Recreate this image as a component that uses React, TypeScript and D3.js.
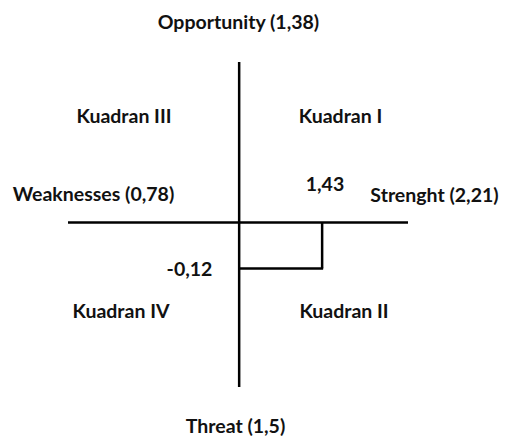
import React from "react";
import * as d3 from "d3";

// SWOT factor scores
const factorNames = ["Strenght", "Weaknesses", "Opportunity", "Threat"];
const factorScores = [2.21, 0.78, 1.38, 1.5];
const quadrantLabels = ["Kuadran I", "Kuadran II", "Kuadran III", "Kuadran IV"];
// resulting point (S - W, O - T)
const pointX = [1.43];
const pointY = [-0.12];
const pointLabels = ["1,43", "-0,12"];

const W = 506;
const H = 439;
const fmt = (v: number) => String(v).replace(".", ",");

export default function App() {
  const x = d3.scaleLinear().domain([-2.95, 2.91]).range([68, 408]);
  const y = d3.scaleLinear().domain([-0.43, 0.42]).range([387, 62]);
  const x0 = x(0);
  const y0 = y(0);
  const px = x(pointX[0]);
  const py = y(pointY[0]);
  const font = "Lato, 'Open Sans', sans-serif";
  const ts = { fontFamily: font, fontWeight: 700, fontSize: 19.5, fill: "#111", textAnchor: "middle" } as const;
  const label = (i: number) => `${factorNames[i]} (${fmt(factorScores[i])})`;
  return (
    <svg width={W} height={H} style={{ position: "absolute", left: 0, top: 0, background: "#fff" }}>
      <rect width={W} height={H} fill="#fff" />
      {/* axes */}
      <line x1={x.range()[0]} x2={x.range()[1]} y1={y0} y2={y0} stroke="#000" strokeWidth={2.5} />
      <line x1={x0} x2={x0} y1={y.range()[1]} y2={y.range()[0]} stroke="#000" strokeWidth={2.5} />
      {/* position lines */}
      <line x1={px} x2={px} y1={y0} y2={py} stroke="#000" strokeWidth={2.5} />
      <line x1={x0} x2={px + 1} y1={py} y2={py} stroke="#000" strokeWidth={2.5} />
      {/* factor labels */}
      <text x={238.5} y={29} {...ts}>{label(2)}</text>
      <text x={235.5} y={433} {...ts}>{label(3)}</text>
      <text x={93.5} y={201} {...ts}>{label(1)}</text>
      <text x={434.5} y={202} {...ts}>{label(0)}</text>
      {/* point labels */}
      <text x={325} y={191} {...ts}>{pointLabels[0]}</text>
      <text x={189.5} y={276} {...ts}>{pointLabels[1]}</text>
      {/* quadrants */}
      <text x={340.5} y={123} {...ts}>{quadrantLabels[0]}</text>
      <text x={344} y={318} {...ts}>{quadrantLabels[1]}</text>
      <text x={124} y={123} {...ts}>{quadrantLabels[2]}</text>
      <text x={121} y={318} {...ts}>{quadrantLabels[3]}</text>
    </svg>
  );
}
